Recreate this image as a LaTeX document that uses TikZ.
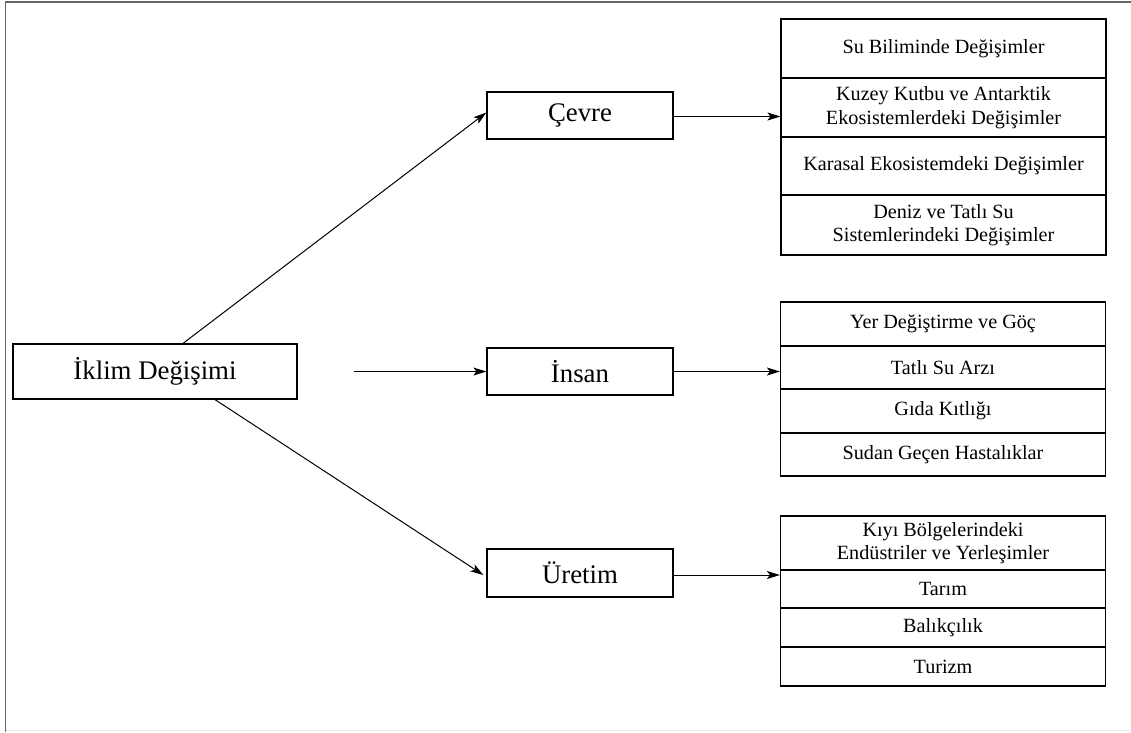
\documentclass[tikz,border=0pt]{standalone}
\usepackage{fontspec}
\setmainfont{Liberation Serif}
\usetikzlibrary{arrows.meta}

\tikzset{
    bigbox/.style={draw, line width=1.2pt, rectangle, inner sep=0pt, font=\fontsize{26.8}{30}\selectfont},
    rowbox/.style={draw, line width=1.2pt, rectangle, inner sep=0pt, minimum width=325pt, align=center, font=\fontsize{20.2}{23.5}\selectfont},
    link/.style={line width=1pt, -{Stealth[length=13pt, width=8pt, inset=3pt]}}
}

\begin{document}
\begin{tikzpicture}[x=1pt, y=-1pt]
            \useasboundingbox (0, 0) rectangle (1131, 732);

            %%frame
            \draw[line width=1.5pt, color=black!60] (5.5, 732) to (5.5, 2) to (1131, 2);
            \draw[line width=1.2pt, color=black!9] (5.5, 730.5) to (1131, 730.5);

            %%main boxes
            \node[bigbox, minimum width=284pt, minimum height=55pt] (iklim) at (155, 371.5) {İklim Değişimi};
            \node[bigbox, minimum width=186pt, minimum height=47pt] (cevre) at (580, 115.5) {Çevre};
            \node[bigbox, minimum width=186pt, minimum height=47pt] (insan) at (580, 371.5) {İnsan};
            \node[bigbox, minimum width=186pt, minimum height=48pt] (uretim) at (580, 573) {Üretim};

            %%list cevre
            \node[rowbox, minimum height=59pt] (su) at (943.5, 48.5) {Su Biliminde Değişimler};
            \node[rowbox, minimum height=59pt] (kuzey) at (943.5, 107.5) {Kuzey Kutbu ve Antarktik\\Ekosistemlerdeki Değişimler};
            \node[rowbox, minimum height=58pt] (karasal) at (943.5, 166) {Karasal Ekosistemdeki Değişimler};
            \node[rowbox, minimum height=60pt] (deniz) at (943.5, 225) {Deniz ve Tatlı Su\\Sistemlerindeki Değişimler};

            %%list insan
            \node[rowbox, minimum height=44pt] (yer) at (943, 324) {Yer Değiştirme ve Göç};
            \node[rowbox, minimum height=43pt] (tatli) at (943, 367.5) {Tatlı Su Arzı};
            \node[rowbox, minimum height=44pt] (gida) at (943, 411) {Gıda Kıtlığı};
            \node[rowbox, minimum height=43pt] (sudan) at (943, 454.5) {Sudan Geçen Hastalıklar};

            %%list uretim
            \node[rowbox, minimum height=54pt] (kiyi) at (943, 543) {Kıyı Bölgelerindeki\\Endüstriler ve Yerleşimler};
            \node[rowbox, minimum height=38pt] (tarim) at (943, 589) {Tarım};
            \node[rowbox, minimum height=39pt] (balik) at (943, 627.5) {Balıkçılık};
            \node[rowbox, minimum height=39pt] (turizm) at (943, 666.5) {Turizm};

            %%branches
            \draw[link] ([xshift=28pt]iklim.north) to ([yshift=3pt]cevre.west);
            \draw[link, shorten <=56pt] (iklim.east) to (insan.west);
            \draw[link] ([xshift=60pt]iklim.south) to ([xshift=-3pt, yshift=-2pt]uretim.west);

            \draw[link] ([yshift=-1pt]cevre.east) to ([yshift=-1pt]cevre.east -| kuzey.west);
            \draw[link] (insan.east) to (insan.east -| tatli.west);
            \draw[link] ([yshift=-2pt]uretim.east) to ([yshift=-2pt]uretim.east -| tarim.west);

        \end{tikzpicture}
\end{document}
